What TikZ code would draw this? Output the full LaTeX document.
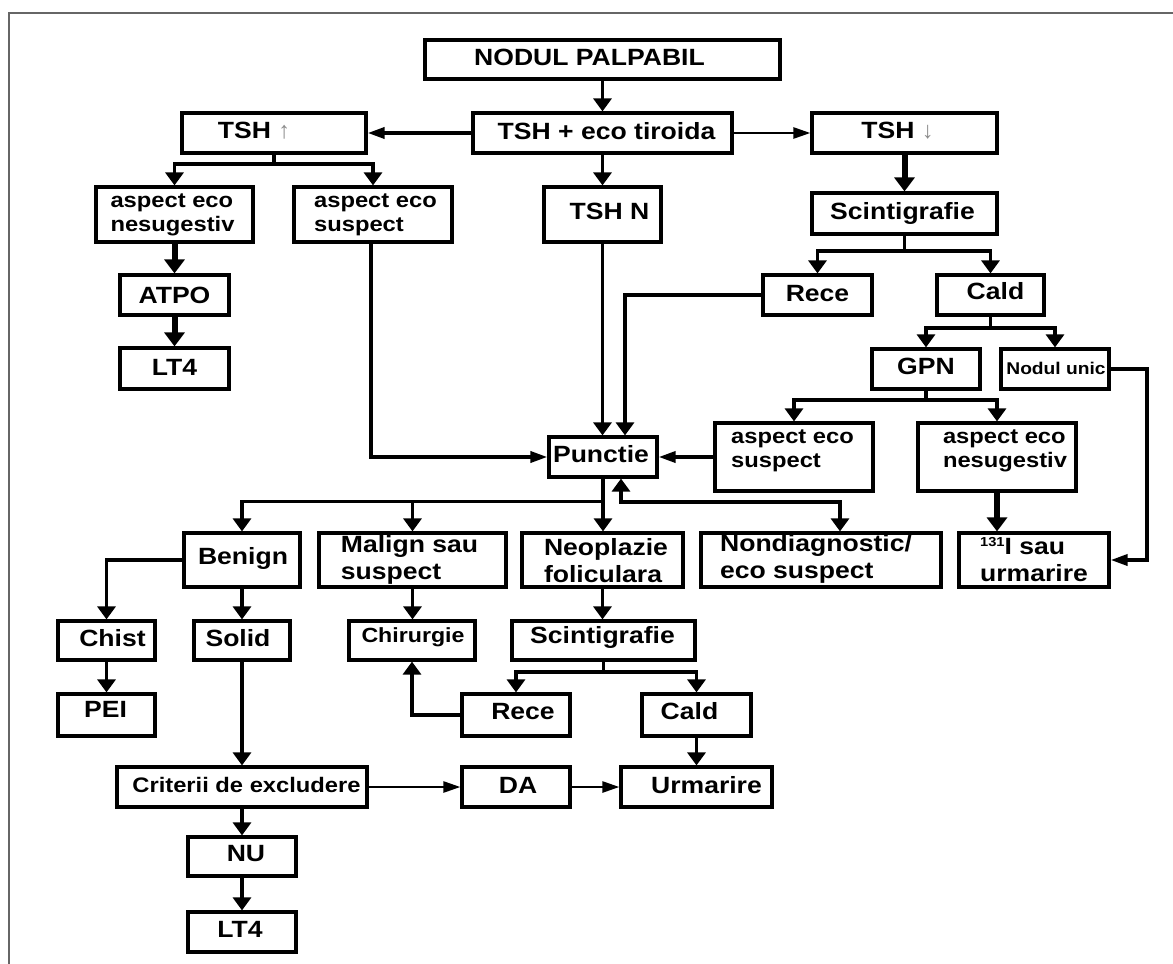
\documentclass[tikz,border=0pt]{standalone}
\usepackage{fontspec}
\setmainfont{Liberation Sans}[FakeStretch=1.13]
\newfontfamily\arrowfont{Liberation Sans}
\usetikzlibrary{arrows.meta}
\newcommand\bx[7]{\node[box, minimum width={#4pt-#2pt}, minimum height={#5pt-#3pt}, label={[lbl,#6]center:{#7}}] (#1) at ({(#2+#4)/2},{(#3+#5)/2}) {};}
\begin{document}
\begin{tikzpicture}[x=1pt,y=-1pt,
  box/.style={draw, line width=3.2pt, inner sep=0pt},
  lbl/.style={font=\bfseries\fontsize{23.5}{27}\selectfont, inner sep=0pt, align=left},
  fa/.style={font=\bfseries\fontsize{21}{24}\selectfont},
  fb/.style={font=\bfseries\fontsize{20.5}{24}\selectfont},
  fc/.style={font=\bfseries\fontsize{17}{20}\selectfont},
  conn/.style={line width=3.5pt},
  thk/.style={line width=6pt},
  thn/.style={line width=2.5pt},
  vt/.style={-{Triangle[width=18pt,length=13pt]}},
  vtk/.style={-{Triangle[width=20pt,length=14pt]}},
  ht/.style={-{Triangle[width=11pt,length=17pt]}},
]
\useasboundingbox (0,0) rectangle (1173,964);
\draw[line width=1.5pt, color=black!60] (9,964) -- (9,13) -- (1173,13);

\bx{nodul}{425}{40}{780}{79}{xshift=-13pt,yshift=2pt}{NODUL PALPABIL}
\bx{tsheco}{473}{113}{732}{153}{xshift=4pt,yshift=2pt}{TSH + eco tiroida}
\bx{tshup}{182}{113}{366}{153}{xshift=-20pt,yshift=2pt}{TSH {\arrowfont\mdseries\color{black!45}↑}}
\bx{tshdn}{812}{113}{997}{153}{xshift=-7pt,yshift=2pt}{TSH {\arrowfont\mdseries\color{black!45}↓}}
\bx{aenL}{96}{187}{253}{242}{fa,xshift=-2pt}{aspect eco\\nesugestiv}
\bx{aesL}{294}{187}{452}{242}{fa,xshift=2.5pt}{aspect eco\\suspect}
\bx{tshn}{544}{187}{661}{242}{xshift=7pt,yshift=3pt}{TSH N}
\bx{scint1}{812}{193}{997}{234}{xshift=-2pt}{Scintigrafie}
\bx{atpo}{120}{275}{229}{315}{}{ATPO}
\bx{lta}{120}{348}{229}{389}{yshift=1pt}{LT4}
\bx{rece1}{763}{275}{872}{315}{yshift=1pt}{Rece}
\bx{cald1}{937}{275}{1044}{315}{xshift=5pt,yshift=4pt}{Cald}
\bx{gpn}{872}{349}{980}{389}{yshift=3pt}{GPN}
\bx{nodunic}{1001}{349}{1109}{389}{fc,xshift=1pt,yshift=1pt}{Nodul unic}
\bx{aesR}{715}{423}{873}{491}{fa,xshift=-1.5pt,yshift=6pt}{aspect eco\\suspect}
\bx{aenR}{918}{423}{1076}{491}{fa,xshift=8pt,yshift=6pt}{aspect eco\\nesugestiv}
\bx{punctie}{549}{437}{657}{477}{xshift=-2pt,yshift=3pt}{Punctie}
\bx{benign}{184}{533}{300}{587}{xshift=1pt,yshift=2pt}{Benign}
\bx{malign}{319}{533}{506}{587}{xshift=-3pt}{Malign sau\\suspect}
\bx{neo}{522}{533}{683}{587}{xshift=3.5pt,yshift=-1pt}{Neoplazie\\foliculara}
\bx{nondiag}{701}{533}{941}{587}{xshift=-5pt,yshift=1pt}{Nondiagnostic/\\eco suspect}
\bx{iod}{959}{533}{1109}{587}{}{{\fontsize{13}{13}\selectfont\raisebox{8pt}{131}}I sau\\urmarire}
\bx{chist}{58}{621}{155}{660}{xshift=6pt,yshift=2pt}{Chist}
\bx{solid}{194}{621}{290}{660}{xshift=-4pt,yshift=2pt}{Solid}
\bx{chir}{349}{621}{475}{660}{fb,xshift=1pt,yshift=3pt}{Chirurgie}
\bx{scint2}{512}{621}{695}{660}{xshift=-1pt,yshift=3pt}{Scintigrafie}
\bx{pei}{58}{694}{155}{736}{xshift=-1pt,yshift=6pt}{PEI}
\bx{rece2}{462}{694}{570}{736}{xshift=7pt,yshift=3pt}{Rece}
\bx{cald2}{642}{694}{751}{736}{xshift=-7pt,yshift=3.5pt}{Cald}
\bx{criterii}{117}{767}{367}{807}{fa,xshift=4.5pt,yshift=2pt}{Criterii de excludere}
\bx{da}{462}{767}{570}{807}{xshift=2pt,yshift=2pt}{DA}
\bx{urm}{621}{767}{772}{807}{xshift=10pt,yshift=2pt}{Urmarire}
\bx{nu}{188}{837}{296}{876}{xshift=4pt,yshift=3pt}{NU}
\bx{ltb}{188}{912}{296}{952}{xshift=-2pt,yshift=3pt}{LT4}

% junctions
\coordinate (j1) at (274,164);
\coordinate (j2) at (904.5,251);
\coordinate (j3) at (990.5,328);
\coordinate (j4) at (926,400);
\coordinate (j5) at (603,501.5);
\coordinate (j6) at (603.5,672);
\coordinate (c1) at (1147,560);

% top
\draw[conn,vt] (nodul.south) -- (tsheco.north);
\draw[conn,ht] (tsheco.west) -- (tshup.east);
\draw[thn,ht] (tsheco.east) -- (tshdn.west);
\draw[conn,vt] (tsheco.south) -- (tshn.north);
\draw[conn,vt] (tshup.south) -- (j1) -| (aenL.north);
\draw[conn,vt] (j1) -| (aesL.north);
\draw[thk,vtk] (aenL.south) -- (atpo.north);
\draw[thk,vtk] (atpo.south) -- (lta.north);
\draw[conn,ht] ([xshift=-2pt]aesL.south) |- (punctie.west);
\draw[conn,vt] (tshn.south) -- (tshn.south |- punctie.north);
\draw[conn,vt] (rece1.west) -| ([xshift=22pt]punctie.north);
\draw[thk,vtk] (tshdn.south) -- (scint1.north);
\draw[conn,vt] (scint1.south) -- (j2) -| (rece1.north);
\draw[conn,vt] (j2) -| (cald1.north);
\draw[conn,vt] (cald1.south) -- (j3) -| (gpn.north);
\draw[conn,vt] (j3) -| (nodunic.north);
\draw[conn,ht] (nodunic.east) -| (c1) -- (iod.east);
\draw[conn,vt] (gpn.south) -- (j4) -| (aesR.north);
\draw[conn,vt] (j4) -| (aenR.north);
\draw[conn,ht] (aesR.west) -- (punctie.east);
\draw[thk,vtk] (aenR.south) -- (aenR.south |- iod.north);

% Punctie children
\draw[conn,vt] (punctie.south) -- (j5) -| (benign.north);
\draw[conn,vt] (j5) -| (malign.north);
\draw[conn,vt] (j5) -- (j5 |- neo.north);
\draw[conn,{Triangle[width=18pt,length=13pt]}-{Triangle[width=18pt,length=13pt]}]
  ([xshift=18pt]punctie.south) |- (840,502) -- (840,533 |- nondiag.north);

% lower left
\draw[conn,vt] (benign.west) -| (chist.north);
\draw[conn,vt] (benign.south) -- (solid.north);
\draw[conn,vt] (chist.south) -- (pei.north);
\draw[conn,vt] (malign.south) -- (malign.south |- chir.north);
\draw[conn,vt] (neo.south) -- (neo.south |- scint2.north);
\draw[conn,vt] (scint2.south) -- (j6) -| (rece2.north);
\draw[conn,vt] (j6) -| (cald2.north);
\draw[conn,vt] (rece2.west) -| (chir.south);
\draw[conn,vt] (cald2.south) -- (cald2.south |- urm.north);
\draw[conn,vt] (solid.south) -- (criterii.north);
\draw[thn,ht] (criterii.east) -- (da.west);
\draw[thn,ht] (da.east) -- (urm.west);
\draw[conn,vt] (criterii.south) -- (nu.north);
\draw[conn,vt] (nu.south) -- (ltb.north);
\end{tikzpicture}
\end{document}
